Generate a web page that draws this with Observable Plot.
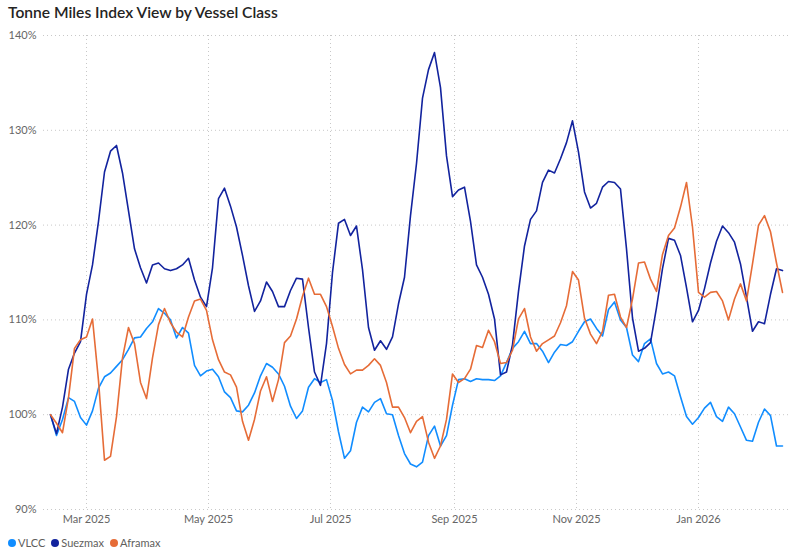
<!DOCTYPE html>
<html>
<head>
<meta charset="utf-8">
<script src="https://cdn.jsdelivr.net/npm/d3@7"></script>
<script src="https://cdn.jsdelivr.net/npm/@observablehq/plot@0.6"></script>
<style>
  body { margin: 0; background: #ffffff; font-family: "Segoe UI", Lato, "Open Sans", sans-serif; width: 789px; height: 555px; overflow: hidden; position: relative; }
  #title { position: absolute; left: 8px; top: 3px; font-size: 15.6px; font-weight: 600; color: #252423; white-space: nowrap; }
  #chart { position: absolute; left: 0; top: 28px; }
  #legend { position: absolute; left: 8px; top: 536px; font-size: 11px; color: #605E5C; display: flex; align-items: center; white-space: nowrap; }
  .item { display: flex; align-items: center; margin-right: 6px; }
  .dot { width: 8px; height: 8px; border-radius: 50%; margin-right: 2px; }
</style>
</head>
<body>
<div id="title">Tonne Miles Index View by Vessel Class</div>
<div id="chart"></div>
<div id="legend"></div>
<script>
// ---- data ----
const startDate = "2025-02-11";   // first observation
const stepDays = 3;                // observation spacing in days
const seriesNames = ["VLCC", "Suezmax", "Aframax"];
const seriesColors = ["#118DFF", "#12239E", "#E66C37"];
const yTicks = [90, 100, 110, 120, 130, 140];
const xTickDates = ["2025-03-01", "2025-05-01", "2025-07-01", "2025-09-01", "2025-11-01", "2026-01-01"];

const vlcc = [
  100, 97.8, 99.5, 101.8, 101.4, 99.7, 98.9, 100.4, 102.8, 104.0,
  104.4, 105.1, 105.8, 106.9, 108.1, 108.2, 109.1, 109.8, 111.2, 110.7,
  110.0, 108.1, 109.2, 108.6, 105.2, 104.1, 104.6, 104.8, 104.0, 102.4,
  101.8, 100.4, 100.3, 101.0, 102.3, 104.1, 105.4, 105.0, 104.3, 103.0,
  100.9, 99.6, 100.4, 102.9, 103.8, 103.4, 103.7, 101.5, 98.2, 95.4,
  96.2, 99.2, 100.8, 100.3, 101.3, 101.7, 100.1, 100.0, 97.8, 95.9,
  94.8, 94.5, 95.0, 97.8, 98.8, 96.7, 97.8, 101.0, 103.7, 103.8,
  103.5, 103.8, 103.7, 103.7, 103.6, 104.1, 105.5, 107.0, 107.7, 108.8,
  107.5, 107.5, 106.7, 105.5, 106.6, 107.4, 107.3, 107.7, 108.8, 109.8,
  110.1, 109.1, 108.3, 111.1, 111.9, 110.0, 109.2, 106.3, 105.6, 107.5,
  108.0, 105.4, 104.3, 104.5, 104.1, 101.9, 99.8, 99.0, 99.7, 100.7,
  101.3, 99.8, 99.3, 100.8, 100.1, 98.7, 97.3, 97.2, 99.2, 100.6,
  99.9, 96.7, 96.7
];
const suezmax = [
  100, 98.0, 100.8, 104.8, 106.5, 107.7, 112.7, 115.8, 120.4, 125.6,
  127.8, 128.4, 125.5, 121.5, 117.5, 115.5, 113.9, 115.8, 116.0, 115.4,
  115.2, 115.4, 115.8, 116.5, 114.2, 112.4, 111.4, 115.5, 122.8, 123.9,
  122.0, 119.8, 116.8, 113.6, 110.9, 112.0, 114.0, 113.0, 111.4, 111.4,
  113.1, 114.4, 114.3, 109.2, 104.5, 103.1, 107.5, 115.0, 120.2, 120.6,
  118.9, 119.9, 115.3, 109.2, 106.8, 107.8, 106.9, 108.2, 111.7, 114.5,
  121.0, 126.5, 133.4, 136.4, 138.2, 134.5, 127.3, 123.0, 123.7, 124.0,
  120.4, 115.8, 114.5, 112.7, 110.1, 104.2, 104.5, 107.4, 113.0, 117.8,
  120.6, 121.5, 124.5, 125.8, 125.5, 127.0, 128.7, 131.0, 127.7, 123.5,
  121.8, 122.3, 124.0, 124.6, 124.5, 123.8, 117.5, 110.2, 106.7, 107.0,
  107.6, 111.3, 115.4, 118.6, 118.4, 116.8, 113.4, 109.8, 111.0, 113.3,
  116.0, 118.3, 119.9, 119.2, 118.2, 115.9, 112.4, 108.8, 109.8, 109.6,
  112.7, 115.4, 115.2
];
const aframax = [
  100, 99.1, 98.1, 101.8, 107.0, 107.9, 108.2, 110.1, 103.6, 95.2,
  95.6, 99.8, 106.0, 109.2, 107.5, 103.4, 101.7, 106.0, 109.5, 111.2,
  109.7, 108.7, 108.2, 110.3, 112.0, 112.2, 111.0, 107.9, 105.8, 104.5,
  104.2, 102.9, 99.3, 97.3, 99.5, 102.5, 104.0, 101.4, 103.7, 107.6,
  108.3, 110.1, 112.5, 114.4, 112.7, 112.7, 111.4, 109.3, 107.0, 105.3,
  104.3, 104.7, 104.7, 105.2, 105.9, 105.2, 103.4, 100.8, 100.8, 99.7,
  98.1, 99.3, 99.8, 97.1, 95.4, 96.7, 99.5, 104.3, 103.4, 103.8,
  104.8, 107.3, 107.1, 108.9, 107.7, 105.4, 105.5, 106.8, 110.1, 111.2,
  108.2, 106.7, 107.5, 107.9, 108.3, 109.7, 111.5, 115.1, 114.2, 110.2,
  108.5, 107.5, 108.8, 112.6, 112.7, 110.3, 109.2, 112.2, 116.0, 116.1,
  114.3, 113.0, 116.9, 118.9, 119.7, 121.9, 124.5, 119.8, 112.9, 112.4,
  112.9, 113.0, 112.0, 110.0, 112.2, 113.8, 112.0, 115.9, 120.0, 121.0,
  119.3, 116.0, 112.9
];

// ---- build table ----
const parseDay = d3.utcParse("%Y-%m-%d");
const start = parseDay(startDate);
const seriesValues = [vlcc, suezmax, aframax];
const rows = [];
seriesValues.forEach((vals, s) => {
  vals.forEach((v, i) => {
    rows.push({ date: d3.utcDay.offset(start, i * stepDays), value: v, series: seriesNames[s] });
  });
});
const xTicks = xTickDates.map(parseDay);

const chart = Plot.plot({
  width: 789,
  height: 502,
  marginLeft: 43,
  marginRight: 1,
  marginTop: 7,
  marginBottom: 21,
  style: { fontFamily: '"Segoe UI", Lato, "Open Sans", sans-serif', fontSize: "11px", color: "#666666", background: "#ffffff" },
  x: {
    type: "utc",
    domain: [new Date(Date.UTC(2025, 1, 7, 12)), new Date(Date.UTC(2026, 1, 15))],
    ticks: xTicks,
    tickFormat: d3.utcFormat("%b %Y"),
    tickSize: 0,
    tickPadding: 6,
    label: null
  },
  y: {
    domain: [90, 140],
    ticks: yTicks,
    tickFormat: d => d + "%",
    tickSize: 0,
    tickPadding: 7,
    label: null
  },
  color: { domain: seriesNames, range: seriesColors },
  marks: [
    Plot.ruleY(yTicks, { stroke: "#c8c8c8", strokeDasharray: "1,3", strokeWidth: 1 }),
    Plot.ruleX(xTicks, { stroke: "#c8c8c8", strokeDasharray: "1,3", strokeWidth: 1 }),
    Plot.lineY(rows, { x: "date", y: "value", z: "series", stroke: "series", strokeWidth: 1.6 })
  ]
});
document.getElementById("chart").appendChild(chart);

// ---- legend ----
const legend = document.getElementById("legend");
seriesNames.forEach((name, i) => {
  const item = document.createElement("div");
  item.className = "item";
  const dot = document.createElement("span");
  dot.className = "dot";
  dot.style.background = seriesColors[i];
  const label = document.createElement("span");
  label.textContent = name;
  item.appendChild(dot);
  item.appendChild(label);
  legend.appendChild(item);
});
</script>
</body>
</html>
